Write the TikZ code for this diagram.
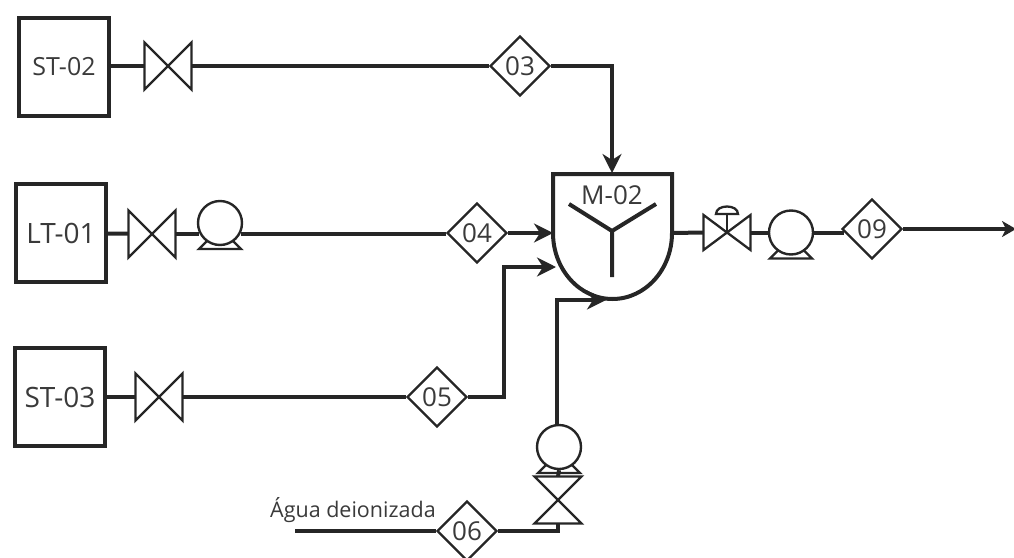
\documentclass[tikz,border=0pt]{standalone}
\usepackage{fontspec}
\setmainfont{Open Sans}
\usetikzlibrary{shapes.geometric,arrows.meta,calc}
\definecolor{ink}{HTML}{262626}
\definecolor{txt}{HTML}{3A3A3A}
\tikzset{
  x=1pt,y=-1pt,
  pipe/.style={line width=4pt,draw=ink,line join=miter},
  feed/.style={pipe,-{Stealth[length=19pt,width=19pt,inset=6pt]}},
  tank/.style={draw=ink,line width=4.4pt,minimum width=90pt,minimum height=98pt,inner sep=0pt,font=\fontsize{25}{28}\selectfont,text=txt},
  big tank/.style={tank,font=\fontsize{28}{30}\selectfont},
  tag/.style={diamond,draw=ink,line width=2.4pt,minimum width=60pt,minimum height=60pt,aspect=1,inner sep=0pt,fill=white,font=\fontsize{26}{28}\selectfont,text=txt},
  hold/.style={inner sep=0pt,outer sep=0pt,minimum width=47pt,minimum height=47pt},
  sym/.style={draw=ink,line width=2.3pt,line join=miter},
  pumpc/.style={circle,draw=ink,line width=2.4pt,minimum size=44pt,inner sep=0pt,fill=white},
  lbl/.style={font=\fontsize{21.5}{24}\selectfont,text=txt,inner sep=0pt}
}
\newcommand{\hvalve}[2]{\node[hold] (#1) at (#2) {};
  \draw[sym] (#1.north west) -- (#1.south east) -- (#1.north east) -- (#1.south west) -- cycle;}
\newcommand{\vvalve}[2]{\node[hold] (#1) at (#2) {};
  \draw[sym] (#1.north west) -- (#1.south east) -- (#1.south west) -- (#1.north east) -- cycle;}
\newcommand{\pumpbase}[1]{\draw[sym] ($(#1.center)+(-13,18)$) -- ($(#1.center)+(-21,26)$) -- ($(#1.center)+(21,26)$) -- ($(#1.center)+(13,18)$);}
\begin{document}
\begin{tikzpicture}
\useasboundingbox (0,0) rectangle (1014,557);
% tanks
\node[tank] (st2) at (64,67) {ST-02\hspace{25pt}};
\node[big tank] (lt1) at (61,233) {LT-01\hspace{4pt}};
\node[big tank] (st3) at (60,397) {ST-03};
% valves
\hvalve{v1}{168,66}
\hvalve{v2}{152,234}
\hvalve{v3}{159,397}
% pumps
\node[pumpc] (p2) at (220,223) {};
\pumpbase{p2}
% tags
\node[tag] (t3) at (520,66) {03};
\node[tag] (t4) at (477,233) {04};
\node[tag] (t5) at (437,397) {05};
\node[tag] (t6) at (467,531) {06};
\node[tag] (t9) at (872,229) {09};
% mixer
\coordinate (mtop) at (612,173);
\coordinate (mleft) at (553,233);
\coordinate (mright) at (672,233);
\draw[draw=ink,line width=4pt,line join=miter] (mleft) -- (553,174) -- (672,174) -- (mright) arc[start angle=0,end angle=180,x radius=59.5,y radius=66];
\coordinate (hub) at (612,231);
\draw[draw=ink,line width=4pt] (569,204) -- (hub) -- (656,204) (hub) -- (612,277);
\node[lbl,font=\fontsize{26}{28}\selectfont] (mlabel) at (612,195) {M-02};
% outlet valve and pump
\node[hold,minimum height=35pt] (v4) at (727,232.5) {};
\draw[sym] (v4.north west) -- (v4.south east) -- (v4.north east) -- (v4.south west) -- cycle;
\coordinate (stemtop) at (727,214);
\draw[sym] (v4.center) -- (stemtop);
\draw[sym] (716,214) .. controls (716,204) and (738,204) .. (738,214) -- cycle;
\node[pumpc] (p4) at (791,232.5) {};
\pumpbase{p4}
% deionized water line
\vvalve{v6}{558,500}
\node[pumpc] (p6) at (559,447) {};
\pumpbase{p6}
\coordinate (wstart) at (295,531);
\node[lbl,anchor=south west] (wlabel) at (270,523) {Água deionizada};
% connectors
\draw[pipe] (st2.east |- v1) -- (v1.west);
\draw[pipe] (v1) -- (t3);
\draw[feed] (t3.east) -| (mtop);
\draw[pipe] (lt1) -- (v2);
\draw[pipe] (v2.east) -- (v2.east -| p2.207);
\draw[pipe] (p2.-27) -- (p2.-27 -| t4.west);
\draw[feed] (t4.east) -- (mleft);
\draw[pipe] (st3) -- (v3);
\draw[pipe] (v3) -- (t5);
\coordinate (in5) at (556,267);
\coordinate (bend5) at (504,397);
\draw[feed] (t5.east) -- (bend5) |- (in5);
\coordinate (in6) at (606,300);
\coordinate (rise) at (557,426);
\draw[feed] (rise) |- (in6);
\draw[pipe] (wstart) -- (t6.west);
\draw[pipe] (t6.east) -| (v6.south);
\draw[pipe] (p6.south) -- (v6.north);
\draw[pipe] (mright) -- (v4.west);
\draw[pipe] (v4.east) -- (p4.west);
\draw[pipe] (p4.east) -- (p4.east -| t9.186);
\coordinate (out) at (1016,229);
\draw[pipe,-{Stealth[length=14pt,width=16pt,inset=4pt]}] (t9.east) -- (out);
\end{tikzpicture}
\end{document}
